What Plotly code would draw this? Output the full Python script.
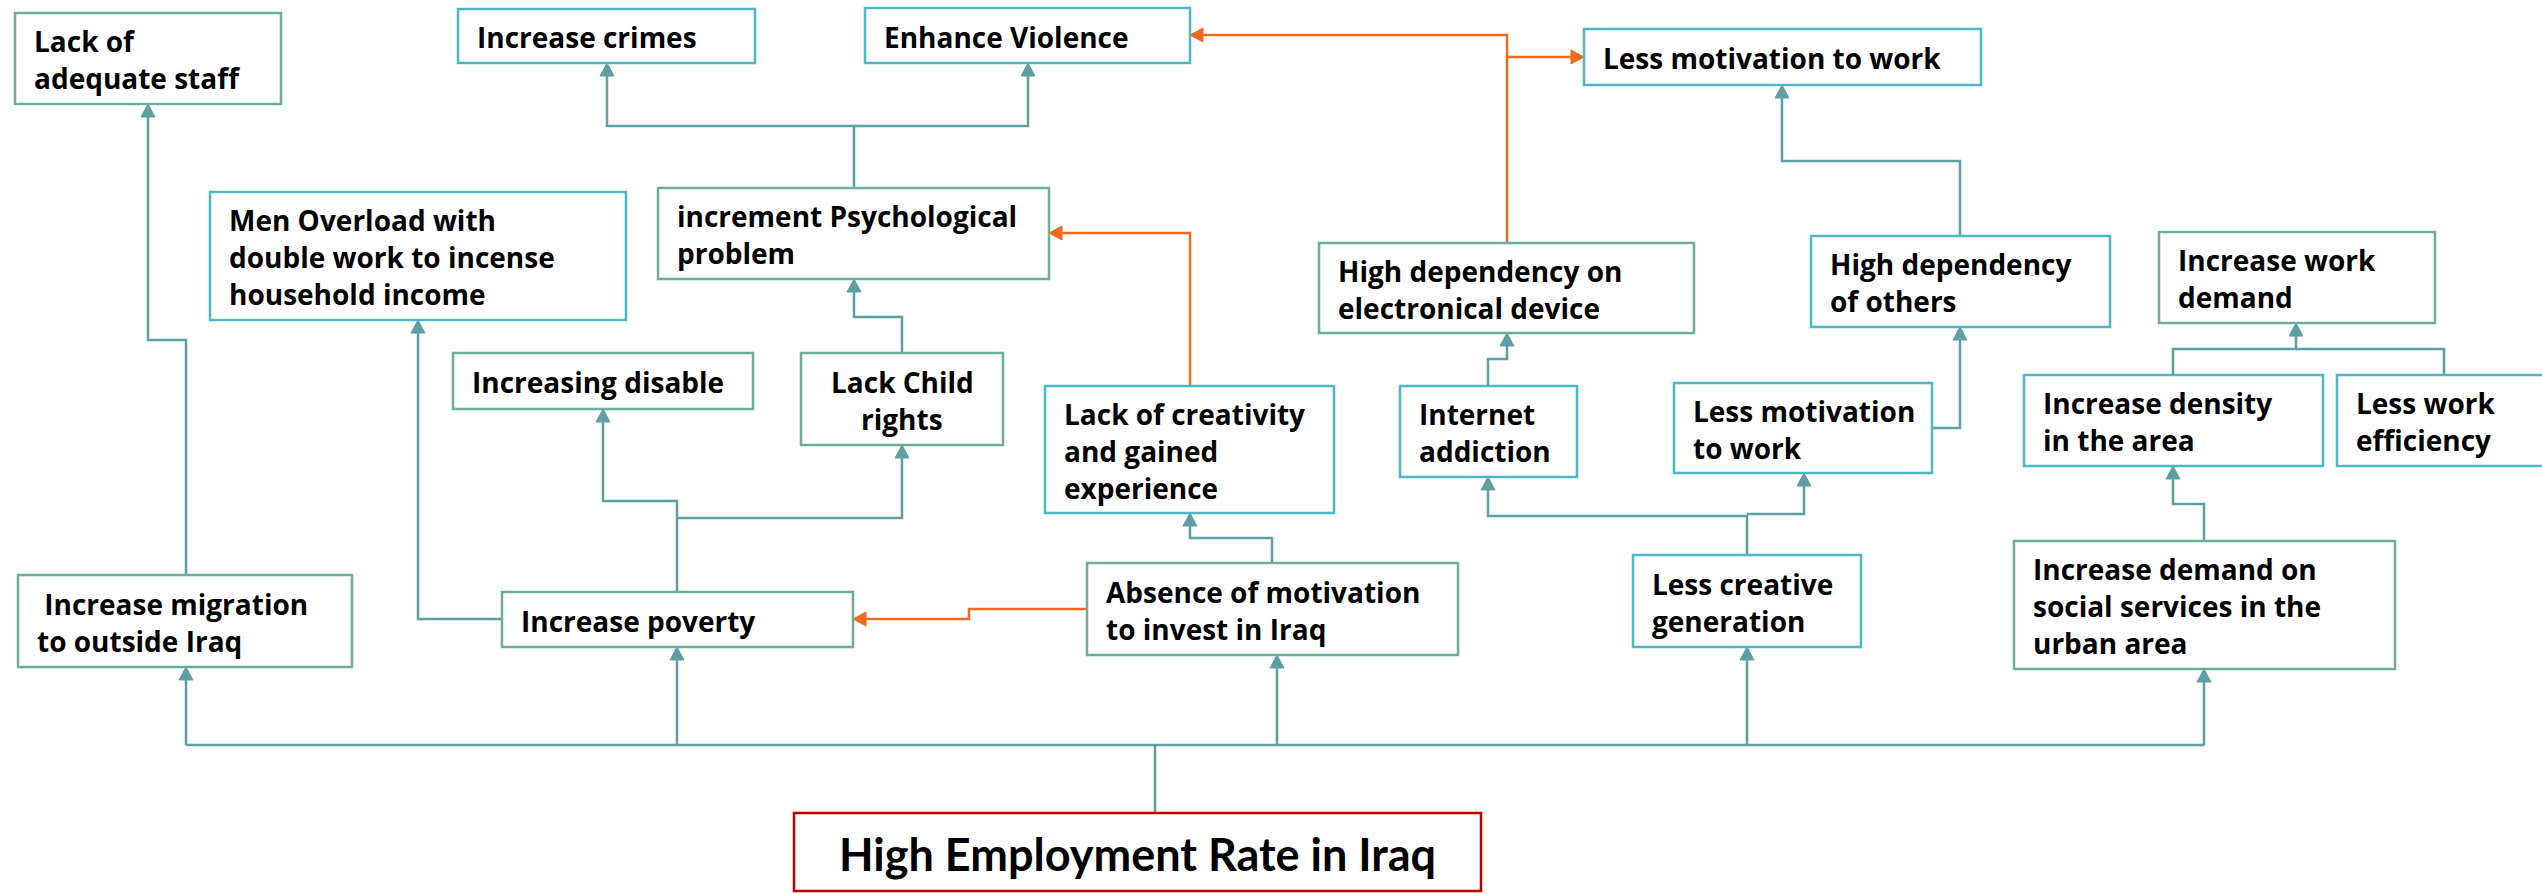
import plotly.graph_objects as go

# ---------------- data: node texts ----------------
node_ids = ["staff", "crimes", "violence", "lessmot_top", "men", "psych", "disable",
            "child", "creativity", "electronic", "internet", "lessmot_mid", "others",
            "workdemand", "density", "efficiency", "migration", "poverty", "absence",
            "lesscreative", "demand", "root"]
node_labels = [
    ["Lack of", "adequate staff"],
    ["Increase crimes"],
    ["Enhance Violence"],
    ["Less motivation to work"],
    ["Men Overload with", "double work to incense", "household income"],
    ["increment Psychological", "problem"],
    ["Increasing disable"],
    ["Lack Child", "rights"],
    ["Lack of creativity", "and gained", "experience"],
    ["High dependency on", "electronical device"],
    ["Internet", "addiction"],
    ["Less motivation", "to work"],
    ["High dependency", "of others"],
    ["Increase work", "demand"],
    ["Increase density", "in the area"],
    ["Less work", "efficiency"],
    ["\u00a0Increase migration", "to outside Iraq"],
    ["Increase poverty"],
    ["Absence of motivation", "to invest in Iraq"],
    ["Less creative", "generation"],
    ["Increase demand on", "social services in the", "urban area"],
    ["High Employment Rate in Iraq"],
]
# cause -> effect links (teal = direct, orange = cross links)
teal_links = [("root", "migration"), ("root", "poverty"), ("root", "absence"),
              ("root", "lesscreative"), ("root", "demand"),
              ("migration", "staff"), ("poverty", "men"), ("poverty", "disable"),
              ("poverty", "child"), ("child", "psych"), ("psych", "crimes"),
              ("psych", "violence"), ("absence", "creativity"), ("internet", "electronic"),
              ("lesscreative", "internet"), ("lesscreative", "lessmot_mid"),
              ("lessmot_mid", "others"), ("others", "lessmot_top"), ("demand", "density"),
              ("density", "workdemand"), ("efficiency", "workdemand")]
orange_links = [("absence", "poverty"), ("creativity", "psych"),
                ("electronic", "violence"), ("electronic", "lessmot_top")]

# ---------------- layout geometry (pixels, y down) ----------------
W, H = 2542, 894
boxes = {
    "staff": (15, 13, 281, 104, "g"),
    "crimes": (458, 9, 755, 63, "c"),
    "violence": (865, 8, 1190, 63, "c"),
    "lessmot_top": (1584, 29, 1981, 85, "c"),
    "men": (210, 192, 626, 320, "c"),
    "psych": (658, 188, 1049, 279, "g"),
    "disable": (453, 353, 753, 409, "g"),
    "child": (801, 353, 1003, 445, "g"),
    "creativity": (1045, 386, 1334, 513, "c"),
    "electronic": (1319, 243, 1694, 333, "g"),
    "internet": (1400, 386, 1577, 477, "c"),
    "lessmot_mid": (1674, 383, 1932, 473, "c"),
    "others": (1811, 236, 2110, 327, "c"),
    "workdemand": (2159, 232, 2435, 323, "g"),
    "density": (2024, 375, 2323, 466, "c"),
    "efficiency": (2337, 375, 2548, 466, "c"),
    "migration": (18, 575, 352, 667, "g"),
    "poverty": (502, 592, 853, 647, "g"),
    "absence": (1087, 563, 1458, 655, "g"),
    "lesscreative": (1633, 555, 1861, 647, "c"),
    "demand": (2014, 541, 2395, 669, "g"),
    "root": (794, 813, 1481, 891, "r"),
}
centered_text = {"child"}

# connector routes (polyline waypoints; arrow at last point when flagged)
BUS = 745
routes = {
    ("root", "bus"): ([(1155, 813), (1155, BUS)], False),
    ("bus", "line"): ([(186, BUS), (2204, BUS)], False),
    ("root", "migration"): ([(186, BUS), (186, 667)], True),
    ("root", "poverty"): ([(677, BUS), (677, 647)], True),
    ("root", "absence"): ([(1277, BUS), (1277, 655)], True),
    ("root", "lesscreative"): ([(1747, BUS), (1747, 647)], True),
    ("root", "demand"): ([(2204, BUS), (2204, 669)], True),
    ("migration", "staff"): ([(186, 575), (186, 340), (148, 340), (148, 104)], True),
    ("poverty", "men"): ([(502, 619), (418, 619), (418, 320)], True),
    ("poverty", "disable"): ([(677, 592), (677, 501), (603, 501), (603, 409)], True),
    ("poverty", "child"): ([(677, 518), (902, 518), (902, 445)], True),
    ("child", "psych"): ([(902, 353), (902, 317), (854, 317), (854, 279)], True),
    ("psych", "crimes"): ([(854, 188), (854, 126), (607, 126), (607, 63)], True),
    ("psych", "violence"): ([(854, 126), (1028, 126), (1028, 63)], True),
    ("absence", "creativity"): ([(1272, 563), (1272, 538), (1190, 538), (1190, 513)], True),
    ("internet", "electronic"): ([(1488, 386), (1488, 359), (1507, 359), (1507, 333)], True),
    ("lesscreative", "internet"): ([(1747, 555), (1747, 516), (1488, 516), (1488, 477)], True),
    ("lesscreative", "lessmot_mid"): ([(1747, 514), (1804, 514), (1804, 473)], True),
    ("lessmot_mid", "others"): ([(1932, 428), (1960, 428), (1960, 327)], True),
    ("others", "lessmot_top"): ([(1960, 236), (1960, 161), (1782, 161), (1782, 85)], True),
    ("demand", "density"): ([(2204, 541), (2204, 504), (2173, 504), (2173, 466)], True),
    ("density", "workdemand"): ([(2173, 375), (2173, 349), (2296, 349), (2296, 323)], True),
    ("efficiency", "workdemand"): ([(2444, 375), (2444, 349), (2296, 349)], False),
    ("absence", "poverty"): ([(1087, 609), (969, 609), (969, 619), (853, 619)], True),
    ("creativity", "psych"): ([(1190, 386), (1190, 233), (1049, 233)], True),
    ("electronic", "violence"): ([(1507, 243), (1507, 35), (1190, 35)], True),
    ("electronic", "lessmot_top"): ([(1507, 57), (1584, 57)], True),
}

TEAL = "#5E9FA3"
ORANGE = "#EE6B1E"
BORDER = {"c": "#4DB8C4", "g": "#6BAF97", "r": "#C00000"}
FONT = "Open Sans"
FSIZE = 28
LINE_GAP = 37

fig = go.Figure()
shapes, annos = [], []


def arrow_path(p_prev, p_tip, length=13, half=7):
    (x0, y0), (x1, y1) = p_prev, p_tip
    dx, dy = x1 - x0, y1 - y0
    n = (dx * dx + dy * dy) ** 0.5
    ux, uy = dx / n, dy / n
    bx, by = x1 - ux * length, y1 - uy * length
    px, py = -uy * half, ux * half
    return (f"M {x1},{y1} L {bx + px},{by + py} L {bx - px},{by - py} Z", (bx, by))


def draw_route(pts, arrow, color):
    pts = list(pts)
    if arrow:
        path, base = arrow_path(pts[-2], pts[-1])
        shapes.append(dict(type="path", path=path, xref="x", yref="y",
                           fillcolor=color, line=dict(color=color, width=1)))
        pts[-1] = base
    d = "M " + " L ".join(f"{x},{y}" for x, y in pts)
    shapes.append(dict(type="path", path=d, xref="x", yref="y",
                       line=dict(color=color, width=2.5)))


draw_route(*routes[("root", "bus")], TEAL)
draw_route(*routes[("bus", "line")], TEAL)
for link in teal_links:
    draw_route(*routes[link], TEAL)
for link in orange_links:
    draw_route(*routes[link], ORANGE)

for nid, lines in zip(node_ids, node_labels):
    x0, y0, x1, y1, kind = boxes[nid]
    shapes.append(dict(type="rect", x0=x0, y0=y0, x1=x1, y1=y1, xref="x", yref="y",
                       line=dict(color=BORDER[kind], width=2.5), fillcolor="white"))
    if nid == "root":
        annos.append(dict(x=(x0 + x1) / 2, y=(y0 + y1) / 2 + 2, xref="x", yref="y",
                          text=f"<b>{lines[0]}</b>", showarrow=False,
                          font=dict(family="Lato, sans-serif", size=45, color="black"),
                          xanchor="center", yanchor="middle"))
        continue
    cy = (y0 + y1) / 2 + 1
    n = len(lines)
    for i, line in enumerate(lines):
        ly = cy + (i - (n - 1) / 2) * LINE_GAP
        if nid in centered_text:
            annos.append(dict(x=(x0 + x1) / 2, y=ly, xref="x", yref="y",
                              text=f"<b>{line}</b>", showarrow=False,
                              font=dict(family=FONT, size=FSIZE, color="black"),
                              xanchor="center", yanchor="middle"))
        else:
            annos.append(dict(x=x0 + 17, y=ly, xref="x", yref="y",
                              text=f"<b>{line}</b>", showarrow=False,
                              font=dict(family=FONT, size=FSIZE, color="black"),
                              xanchor="left", yanchor="middle"))

fig.update_layout(
    width=W, height=H, margin=dict(l=0, r=0, t=0, b=0),
    paper_bgcolor="white", plot_bgcolor="white",
    xaxis=dict(range=[0, W], visible=False, fixedrange=True),
    yaxis=dict(range=[H, 0], visible=False, fixedrange=True),
    shapes=shapes, annotations=annos, showlegend=False,
)

fig.write_html("out.html", config={"displayModeBar": False},
               post_script="document.body.style.margin='0';")
